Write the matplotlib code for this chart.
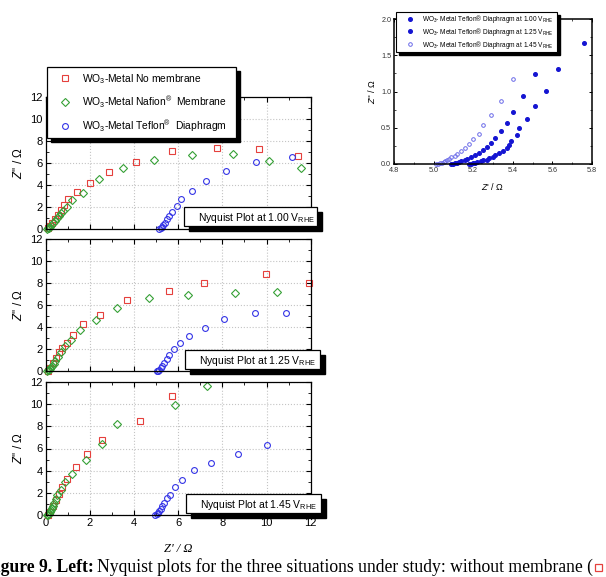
import matplotlib
matplotlib.use("Agg")
import matplotlib.pyplot as plt
from matplotlib.patches import Rectangle
from matplotlib.ticker import MultipleLocator

plt.rcParams["font.family"] = ["Liberation Sans", "DejaVu Sans"]
plt.rcParams["mathtext.fontset"] = "custom"
plt.rcParams["mathtext.rm"] = "Liberation Sans"
plt.rcParams["mathtext.it"] = "Liberation Sans:italic"
plt.rcParams["mathtext.bf"] = "Liberation Sans:bold"

W, H = 606, 577

# ---- data: Nyquist plots (Z' , Z'') in ohm ----
# 1.00 V_RHE
nomem_100_x = [0.12, 0.2, 0.3, 0.42, 0.55, 0.68, 0.83, 1.02, 1.43, 2.0, 2.86, 4.07, 5.71, 7.74, 9.66, 11.41]
nomem_100_y = [0.05, 0.25, 0.55, 0.9, 1.3, 1.7, 2.18, 2.73, 3.33, 4.15, 5.17, 6.11, 7.11, 7.33, 7.26, 6.63]
nafion_100_x = [0.06, 0.1, 0.14, 0.18, 0.26, 0.33, 0.41, 0.5, 0.59, 0.68, 0.78, 0.95, 1.18, 1.68, 2.43, 3.52, 4.92, 6.64, 8.5, 10.13, 11.55]
nafion_100_y = [0.0, 0.06, 0.12, 0.21, 0.36, 0.57, 0.75, 0.97, 1.21, 1.43, 1.66, 2.03, 2.6, 3.3, 4.56, 5.5, 6.29, 6.72, 6.78, 6.2, 5.53]
teflon_100_x = [5.15, 5.21, 5.27, 5.33, 5.4, 5.48, 5.6, 5.73, 5.93, 6.13, 6.61, 7.26, 8.17, 9.51, 11.14]
teflon_100_y = [0.0, 0.09, 0.21, 0.36, 0.58, 0.88, 1.22, 1.58, 2.13, 2.7, 3.47, 4.35, 5.26, 6.11, 6.5]

# 1.25 V_RHE
nomem_125_x = [0.1, 0.2, 0.32, 0.45, 0.6, 0.75, 0.95, 1.22, 1.7, 2.47, 3.7, 5.6, 7.17, 9.98, 11.94]
nomem_125_y = [0.02, 0.3, 0.7, 1.2, 1.7, 2.1, 2.56, 3.26, 4.23, 5.09, 6.43, 7.31, 8.04, 8.8, 7.98]
nafion_125_x = [0.08, 0.12, 0.16, 0.2, 0.25, 0.3, 0.36, 0.43, 0.54, 0.69, 0.89, 1.16, 1.55, 2.26, 3.22, 4.66, 6.44, 8.57, 10.48]
nafion_125_y = [0.0, 0.05, 0.12, 0.22, 0.35, 0.5, 0.68, 0.9, 1.25, 1.71, 2.25, 2.8, 3.69, 4.63, 5.73, 6.64, 6.91, 7.13, 7.22]
teflon_125_x = [5.03, 5.09, 5.14, 5.21, 5.28, 5.37, 5.48, 5.6, 5.8, 6.08, 6.49, 7.23, 8.08, 9.48, 10.87]
teflon_125_y = [0.0, 0.03, 0.12, 0.27, 0.46, 0.73, 1.07, 1.43, 1.98, 2.56, 3.17, 3.87, 4.69, 5.3, 5.3]

# 1.45 V_RHE
nomem_145_x = [0.1, 0.2, 0.32, 0.45, 0.58, 0.74, 0.97, 1.37, 1.86, 2.57, 4.26, 5.71]
nomem_145_y = [0.02, 0.3, 0.8, 1.35, 1.9, 2.55, 3.28, 4.29, 5.47, 6.81, 8.45, 10.73]
nafion_145_x = [0.06, 0.1, 0.14, 0.18, 0.22, 0.27, 0.32, 0.38, 0.45, 0.53, 0.71, 0.89, 1.19, 1.83, 2.54, 3.25, 5.86, 7.29]
nafion_145_y = [0.0, 0.04, 0.12, 0.25, 0.42, 0.62, 0.85, 1.1, 1.42, 1.8, 2.28, 3.01, 3.71, 4.92, 6.44, 8.24, 9.88, 11.64]
teflon_145_x = [4.97, 5.03, 5.09, 5.15, 5.21, 5.28, 5.36, 5.48, 5.63, 5.87, 6.19, 6.7, 7.47, 8.69, 10.01]
teflon_145_y = [0.03, 0.09, 0.21, 0.36, 0.58, 0.82, 1.09, 1.49, 1.82, 2.49, 3.19, 4.04, 4.68, 5.47, 6.35]

# inset: Teflon diaphragm, high-frequency region
zoom_100_x = [5.18, 5.19, 5.2, 5.21, 5.22, 5.24, 5.25, 5.27, 5.28, 5.3, 5.31, 5.33, 5.35, 5.37, 5.38, 5.39, 5.42, 5.43, 5.47, 5.51, 5.57, 5.63, 5.76]
zoom_100_y = [0.0, 0.005, 0.01, 0.02, 0.03, 0.04, 0.05, 0.06, 0.08, 0.1, 0.12, 0.15, 0.18, 0.22, 0.26, 0.32, 0.4, 0.5, 0.62, 0.8, 1.01, 1.31, 1.67]
zoom_125_x = [5.09, 5.1, 5.11, 5.12, 5.13, 5.14, 5.16, 5.17, 5.19, 5.21, 5.23, 5.25, 5.27, 5.29, 5.31, 5.34, 5.37, 5.4, 5.45, 5.51]
zoom_125_y = [0.0, 0.005, 0.01, 0.02, 0.03, 0.04, 0.05, 0.07, 0.09, 0.12, 0.15, 0.19, 0.24, 0.29, 0.36, 0.45, 0.57, 0.72, 0.94, 1.24]
zoom_145_x = [5.01, 5.02, 5.03, 5.04, 5.05, 5.06, 5.07, 5.08, 5.09, 5.11, 5.12, 5.14, 5.16, 5.18, 5.2, 5.23, 5.25, 5.29, 5.34, 5.4, 5.52]
zoom_145_y = [0.0, 0.005, 0.01, 0.02, 0.03, 0.04, 0.05, 0.07, 0.09, 0.11, 0.14, 0.18, 0.22, 0.27, 0.34, 0.42, 0.54, 0.68, 0.87, 1.17, 1.53]

potentials = ["1.00", "1.25", "1.45"]
panels = [
    (nomem_100_x, nomem_100_y, nafion_100_x, nafion_100_y, teflon_100_x, teflon_100_y),
    (nomem_125_x, nomem_125_y, nafion_125_x, nafion_125_y, teflon_125_x, teflon_125_y),
    (nomem_145_x, nomem_145_y, nafion_145_x, nafion_145_y, teflon_145_x, teflon_145_y),
]
series_labels = [
    r"WO$_3$-Metal No membrane",
    r"WO$_3$-Metal Nafion$^{®}$  Membrane",
    r"WO$_3$-Metal Teflon$^{®}$  Diaphragm",
]
zoom_labels = [r"WO$_3$- Metal Teflon® Diaphragm at %s V$_{\mathrm{RHE}}$" % p for p in potentials]

RED, GREEN, BLUE = "#e5403d", "#36a036", "#3434e6"
DBLUE, LBLUE = "#1414d2", "#6a6ae8"


def fx(x):
    return x / W


def fy(y):
    return 1 - y / H


def box_with_shadow(x0, y0, x1, y1, off=4, lw=0.9):
    fig.add_artist(Rectangle((fx(x0 + off), fy(y1 + off)), fx(x1 - x0), (y1 - y0) / H,
                             transform=fig.transFigure, fc="black", ec="black", zorder=3))
    fig.add_artist(Rectangle((fx(x0), fy(y1)), fx(x1 - x0), (y1 - y0) / H,
                             transform=fig.transFigure, fc="white", ec="black", lw=lw, zorder=3.5))


fig = plt.figure(figsize=(W / 100, H / 100), dpi=100)

panel_px = [(97, 229), (239, 371), (382, 515)]
note_px = [(184, 207, 317, 226), (185, 350, 320, 369), (186, 494, 321, 513)]
handles = None
for i, (top, bot) in enumerate(panel_px):
    ax = fig.add_axes([fx(45.7), fy(bot), fx(310.7 - 45.7), (bot - top) / H])
    nx, ny, fxs, fys, tx, ty = panels[i]
    h1, = ax.plot(nx, ny, "s", ms=3.8, mfc="none", mec=RED, mew=0.8, clip_on=False)
    h2, = ax.plot(fxs, fys, "D", ms=3.6, mfc="none", mec=GREEN, mew=0.8, clip_on=False)
    h3, = ax.plot(tx, ty, "o", ms=4.2, mfc="none", mec=BLUE, mew=0.8, clip_on=False)
    if handles is None:
        handles = [h1, h2, h3]
    ax.set_xlim(0, 12)
    ax.set_ylim(0, 12)
    ax.xaxis.set_major_locator(MultipleLocator(2))
    ax.xaxis.set_minor_locator(MultipleLocator(1))
    ax.yaxis.set_major_locator(MultipleLocator(2))
    ax.yaxis.set_minor_locator(MultipleLocator(1))
    ax.grid(True, which="major", ls=":", color="#c4c4c4", lw=0.8)
    ax.tick_params(which="both", direction="in", top=True, right=True, labelsize=8, pad=2)
    ax.tick_params(which="major", length=3.5, width=0.8)
    ax.tick_params(which="minor", length=2, width=0.6)
    for s in ax.spines.values():
        s.set_linewidth(0.9)
    if i < 2:
        ax.tick_params(labelbottom=False)
    else:
        ax.set_xlabel("Z' / Ω", family="Liberation Serif", style="italic", fontsize=9, labelpad=11)
    ax.set_ylabel(r"$Z$'' / Ω", fontsize=8.5, labelpad=4)

    x0, y0, x1, y1 = note_px[i]
    box_with_shadow(x0, y0, x1, y1, off=5)
    fig.text(fx(x0 + 14), fy((y0 + y1) / 2 + 4.5), r"Nyquist Plot at %s V$_{\mathrm{RHE}}$" % potentials[i],
             fontsize=7.5, va="baseline", ha="left", zorder=4)

# main legend
box_with_shadow(47, 67, 236, 138, off=4)
leg = fig.legend(handles, series_labels, loc="upper left", bbox_to_anchor=(fx(58), fy(72)),
                 frameon=False, fontsize=7.4, borderpad=0, borderaxespad=0,
                 handlelength=1.4, handletextpad=0.9, labelspacing=0.8, markerscale=1.0)
leg.set_zorder(5)

# inset: high-frequency zoom of the Teflon diaphragm curves
ax2 = fig.add_axes([fx(394), fy(164), fx(592 - 394), (164 - 19) / H])
z1, = ax2.plot(zoom_100_x, zoom_100_y, "o", ms=2.6, color=DBLUE, mec=DBLUE, clip_on=False)
z2, = ax2.plot(zoom_125_x, zoom_125_y, "o", ms=2.6, color=DBLUE, mec=DBLUE, clip_on=False)
z3, = ax2.plot(zoom_145_x, zoom_145_y, "o", ms=2.6, mfc="none", mec=LBLUE, mew=0.7, clip_on=False)
ax2.set_xlim(4.8, 5.8)
ax2.set_ylim(0, 2.0)
ax2.xaxis.set_major_locator(MultipleLocator(0.2))
ax2.xaxis.set_minor_locator(MultipleLocator(0.1))
ax2.yaxis.set_major_locator(MultipleLocator(0.5))
ax2.yaxis.set_minor_locator(MultipleLocator(0.25))
ax2.xaxis.set_major_formatter(lambda v, p: "%.1f" % v)
ax2.yaxis.set_major_formatter(lambda v, p: "%.1f" % v)
ax2.tick_params(which="both", direction="in", top=True, right=True, labelsize=5.2,
                labelcolor="#333333", pad=2)
ax2.tick_params(which="major", length=2.5, width=0.7)
ax2.tick_params(which="minor", length=1.5, width=0.5)
for s in ax2.spines.values():
    s.set_linewidth(1.1)
ax2.set_xlabel(r"$Z$' / Ω", fontsize=6.5, labelpad=5)
ax2.set_ylabel(r"$Z$'' / Ω", fontsize=6.5, labelpad=3)

box_with_shadow(396, 12, 557, 52, off=3, lw=0.8)
leg2 = fig.legend([z1, z2, z3], zoom_labels, loc="upper left", bbox_to_anchor=(fx(405), fy(13)),
                  frameon=False, fontsize=4.7, borderpad=0, borderaxespad=0,
                  handlelength=1.6, handletextpad=1.0, labelspacing=0.12)
leg2.set_zorder(5)

# caption line cut by the image edge
renderer = fig.canvas.get_renderer()
cap_bold = fig.text(fx(-15), fy(572), "Figure 9. Left:", family="Liberation Serif",
                    weight="bold", fontsize=12.7, va="baseline", ha="left")
bb = cap_bold.get_window_extent(renderer=renderer)
cap = fig.text(bb.x1 / W + fx(3), fy(572),
               "Nyquist plots for the three situations under study: without membrane (",
               family="Liberation Serif", fontsize=12.7, va="baseline", ha="left")
bb2 = cap.get_window_extent(renderer=renderer)
fig.add_artist(Rectangle((bb2.x1 / W + fx(2), fy(571)), fx(7), 7 / H, transform=fig.transFigure,
                         fc="none", ec=RED, lw=0.9))

fig.savefig("out.png", dpi=100)
